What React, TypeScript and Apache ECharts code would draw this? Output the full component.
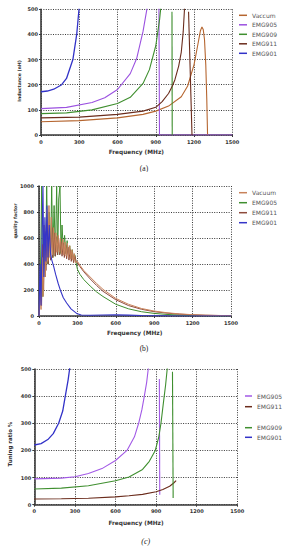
import React, { useEffect, useRef } from "react";
import * as echarts from "echarts";

// ---------------- (a) Inductance (nH) vs Frequency ----------------
const A_VAC_F = [0, 300, 600, 800, 900, 1000, 1100, 1150, 1200, 1230, 1250, 1262, 1272, 1282, 1292, 1300, 1306];
const A_VAC_L = [53, 57, 68, 82, 95, 115, 152, 195, 280, 360, 415, 430, 420, 380, 280, 140, 0];
const A_905_F = [0, 200, 400, 500, 600, 700, 750, 800, 830, 850];
const A_905_L = [105, 110, 129, 148, 181, 244, 304, 412, 500, 600];
const A_905_VF = [924, 929, 1500];
const A_905_VL = [600, 0, 0];
const A_909_F = [0, 200, 400, 600, 700, 800, 850, 900, 930, 950];
const A_909_L = [85, 88, 100, 125, 150, 205, 260, 355, 460, 560];
const A_909_VF = [1027, 1029];
const A_909_VL = [490, 0];
const A_911_F = [0, 300, 600, 800, 900, 950, 1000, 1030, 1050, 1080, 1100, 1115, 1125, 1135];
const A_911_L = [68, 71, 82, 95, 110, 133, 165, 195, 220, 275, 330, 410, 500, 600];
const A_911_VF = [1157, 1184];
const A_911_VL = [490, 0];
const A_901_F = [0, 50, 100, 162, 200, 250, 280, 298, 310];
const A_901_L = [172, 175, 182, 200, 225, 300, 400, 500, 600];

// ---------------- (b) quality factor vs Frequency ----------------
const B_VAC_F = [0, 8, 16, 24, 32, 42, 50, 60, 68, 78, 86, 96, 104, 114, 122, 132, 140, 150, 158, 168, 176, 186, 194, 204, 212, 222, 230, 240, 248, 258, 266, 276, 284, 300, 320, 350, 400, 450, 500, 600, 700, 800, 900, 1000, 1100, 1200, 1300, 1400, 1500];
const B_VAC_Q = [0, 200, 50, 450, 150, 700, 300, 820, 420, 850, 450, 760, 470, 680, 480, 640, 490, 620, 490, 600, 480, 590, 470, 570, 460, 560, 450, 540, 440, 510, 430, 480, 410, 420, 390, 350, 300, 250, 205, 135, 90, 58, 38, 25, 16, 10, 6, 4, 3];
const B_905_F = [0, 10, 21, 30, 40, 50, 60, 70, 80, 90, 99, 108, 118, 128, 138, 146, 154, 164, 172, 180, 190, 200, 210, 220, 230, 240, 250, 260, 270, 280, 290, 300, 320, 350, 400, 450, 500, 600, 700, 800, 900, 1000, 1100, 1200, 1300, 1400, 1500];
const B_905_Q = [0, 250, 1000, 150, 700, 300, 1000, 400, 800, 430, 1000, 450, 850, 460, 1000, 470, 900, 1000, 480, 700, 500, 620, 480, 580, 470, 540, 450, 510, 430, 470, 410, 360, 320, 280, 230, 185, 150, 90, 55, 33, 20, 12, 7, 4, 2, 1, 1];
const B_911_F = [0, 12, 20, 28, 36, 46, 54, 64, 72, 82, 90, 100, 108, 118, 126, 136, 144, 154, 162, 172, 180, 190, 198, 208, 216, 226, 234, 244, 252, 262, 270, 280, 290, 300, 320, 350, 400, 450, 500, 600, 700, 800, 900, 1000, 1100, 1200, 1300, 1400, 1500];
const B_911_Q = [0, 300, 80, 550, 200, 650, 350, 700, 400, 720, 430, 680, 450, 640, 460, 610, 470, 590, 470, 570, 460, 560, 450, 545, 440, 530, 430, 510, 420, 490, 410, 460, 420, 410, 380, 340, 285, 235, 190, 125, 80, 52, 33, 22, 14, 9, 6, 4, 3];
const B_901_F = [0, 8, 16, 24, 31, 38, 46, 54, 62, 70, 80, 90, 100, 115, 130, 150, 170, 190, 216, 250, 294, 330, 400, 500, 600, 700, 800, 900, 1000, 1200, 1500];
const B_901_Q = [0, 400, 80, 650, 1000, 300, 760, 420, 850, 450, 700, 480, 430, 380, 320, 250, 190, 140, 100, 55, 20, 8, 6, 8, 9, 7, 4, 2, 1, 0, 0];

// ---------------- (c) Tuning ratio % vs Frequency ----------------
const C_905_F = [0, 200, 300, 400, 500, 600, 685, 740, 771, 795, 813, 830, 842, 855];
const C_905_R = [95, 98, 103, 115, 133, 163, 200, 250, 300, 350, 400, 450, 500, 580];
const C_905_VF = [924, 927];
const C_905_VR = [463, 37];
const C_911_F = [0, 200, 400, 600, 700, 800, 900, 950, 1000, 1030, 1048];
const C_911_R = [21, 22, 24, 29, 33, 38, 48, 56, 68, 80, 89];
const C_909_F = [0, 200, 400, 600, 700, 800, 850, 894, 920, 936, 955, 970, 982, 995];
const C_909_R = [58, 61, 70, 88, 102, 130, 160, 200, 250, 300, 380, 440, 500, 580];
const C_909_VF = [1021, 1026];
const C_909_VR = [490, 25];
const C_901_F = [0, 50, 100, 140, 180, 210, 229, 250, 261, 270];
const C_901_R = [220, 225, 240, 262, 300, 345, 400, 460, 500, 560];

const FREQ_MAX = 1500;
const FREQ_STEP = 300;

const zip = (f: number[], v: number[]) => f.map((x, i) => [x, v[i]]);

const FONT = "DejaVu Sans";
const AX = "#3a3a3a";
const plain = (v: number) => String(v);

function xAxisCfg() {
  return {
    type: "value",
    min: 0,
    max: FREQ_MAX,
    interval: FREQ_STEP,
    axisLine: { show: true, lineStyle: { color: AX, width: 1.6 } },
    axisTick: { show: true, length: 2, lineStyle: { color: AX, width: 1 } },
    axisLabel: { fontSize: 5, fontWeight: "bold", color: "#333", margin: 4, fontFamily: FONT, formatter: plain },
    splitLine: { show: true, lineStyle: { type: [1, 1.4], color: "#222", width: 0.9 } },
  };
}
function yAxisCfg(max: number, interval: number, margin: number) {
  return {
    type: "value",
    min: 0,
    max,
    interval,
    axisLine: { show: true, lineStyle: { color: AX, width: 1.6 } },
    axisTick: { show: true, length: 2, lineStyle: { color: AX, width: 1 } },
    axisLabel: { fontSize: 5, fontWeight: "bold", color: "#333", margin, fontFamily: FONT, formatter: plain },
    splitLine: { show: true, lineStyle: { type: [1, 1.4], color: "#222", width: 0.9 } },
  };
}
function line(name: string, data: number[][], color: string, width = 1.1) {
  return {
    type: "line",
    name,
    data,
    showSymbol: false,
    symbol: "none",
    lineStyle: { color, width },
    itemStyle: { color },
    clip: true,
    z: 3,
  };
}
function legendCfg(names: string[], left: number, top: number, gap: number, itemWidth = 8) {
  return {
    orient: "vertical",
    left,
    top,
    data: names,
    icon: "rect",
    itemWidth,
    itemHeight: 1.5,
    itemGap: gap,
    selectedMode: false,
    padding: 0,
    textStyle: { fontSize: 6, color: "#555", fontFamily: FONT, lineHeight: 7 },
  };
}
function txt(text: string, x: number, y: number, size: number, opts: any = {}) {
  return {
    type: "text",
    x,
    y,
    rotation: opts.rotation || 0,
    style: {
      text,
      fontSize: size,
      fontWeight: opts.weight || "bold",
      fontStyle: opts.italic ? "italic" : "normal",
      fontFamily: opts.family || FONT,
      fill: opts.fill || "#333",
      textAlign: "center",
      textVerticalAlign: "middle",
    },
  };
}

// page offsets of the three panels
const OFF_A = 0;
const OFF_B = 172;
const OFF_C = 354;

const C_VAC = "#b5652f";
const C_905 = "#9b51e0";
const C_909 = "#3f8f2f";
const C_911 = "#6b2c1c";
const C_901 = "#3232c8";

const optA = {
  animation: false,
  grid: { left: 41, top: 9.3 - OFF_A, width: 191.3, height: 125.7 },
  xAxis: xAxisCfg(),
  yAxis: yAxisCfg(500, 100, 3),
  legend: legendCfg(["Vaccum", "EMG905", "EMG909", "EMG911", "EMG901"], 239, 11.8 - OFF_A, 2.5),
  graphic: [
    txt("Inductance (nH)", 19, 81 - OFF_A, 4.6, { rotation: Math.PI / 2 }),
    txt("Frequency (MHz)", 136.3, 151.7 - OFF_A, 5.8),
    txt("(a)", 144, 168 - OFF_A, 7.5, { weight: "normal", family: "Liberation Serif", fill: "#222" }),
  ],
  series: [
    line("Vaccum", zip(A_VAC_F, A_VAC_L), C_VAC),
    line("EMG905", zip(A_905_F, A_905_L), C_905),
    line("_905v", zip(A_905_VF, A_905_VL), C_905),
    line("EMG909", zip(A_909_F, A_909_L), C_909),
    line("_909v", zip(A_909_VF, A_909_VL), C_909),
    line("EMG911", zip(A_911_F, A_911_L), C_911),
    line("_911v", zip(A_911_VF, A_911_VL), C_911),
    line("EMG901", zip(A_901_F, A_901_L), C_901, 1.3),
  ],
};

const B_VAC = "#c8825a";
const B_905 = "#3f8f2f";
const B_911 = "#8e4b3c";
const B_901 = "#3535c8";

const optB = {
  animation: false,
  grid: { left: 39, top: 186 - OFF_B, width: 192, height: 130 },
  xAxis: xAxisCfg(),
  yAxis: yAxisCfg(1000, 200, 5),
  legend: legendCfg(["Vacuum", "EMG905", "EMG911", "EMG901"], 239, 189.2 - OFF_B, 3),
  graphic: [
    txt("quality factor", 15, 221 - OFF_B, 4.6, { rotation: Math.PI / 2 }),
    txt("Frequency (MHz)", 134.7, 333.3 - OFF_B, 5.8),
    txt("(b)", 144, 348 - OFF_B, 7.5, { weight: "normal", family: "Liberation Serif", fill: "#222" }),
  ],
  series: [
    line("EMG905", zip(B_905_F, B_905_Q), B_905, 1),
    line("EMG911", zip(B_911_F, B_911_Q), B_911, 1),
    line("Vacuum", zip(B_VAC_F, B_VAC_Q), B_VAC, 1),
    line("EMG901", zip(B_901_F, B_901_Q), B_901, 1.1),
  ],
};

const C_P905 = "#a259e6";
const optC = {
  animation: false,
  grid: { left: 34.3, top: 369 - OFF_C, width: 203, height: 135.7 },
  xAxis: xAxisCfg(),
  yAxis: yAxisCfg(500, 100, 3),
  legend: [
    legendCfg(["EMG905", "EMG911"], 245, 392.5 - OFF_C, 3.7, 7),
    legendCfg(["EMG909", "EMG901"], 245, 424.2 - OFF_C, 2.6, 7),
  ],
  graphic: [
    txt("Tuning ratio %", 10, 444 - OFF_C, 5.5, { rotation: Math.PI / 2 }),
    txt("Frequency (MHz)", 136, 522.7 - OFF_C, 5.8),
    txt("(c)", 145.7, 541 - OFF_C, 8, { weight: "normal", italic: true, family: "Liberation Serif", fill: "#222" }),
  ],
  series: [
    line("EMG905", zip(C_905_F, C_905_R), C_P905),
    line("_905v", zip(C_905_VF, C_905_VR), C_P905),
    line("EMG911", zip(C_911_F, C_911_R), C_911),
    line("EMG909", zip(C_909_F, C_909_R), C_909),
    line("_909v", zip(C_909_VF, C_909_VR), C_909),
    line("EMG901", zip(C_901_F, C_901_R), C_901, 1.3),
  ],
};

function Panel({ option, top, height }: { option: any; top: number; height: number }) {
  const ref = useRef<HTMLDivElement>(null);
  useEffect(() => {
    if (!ref.current) return;
    const chart = echarts.init(ref.current, undefined, { renderer: "svg" });
    chart.setOption(option);
    return () => chart.dispose();
  }, [option]);
  return <div ref={ref} style={{ position: "absolute", left: 0, top, width: 289, height }} />;
}

export default function App() {
  useEffect(() => {
    document.body.style.margin = "0";
    document.body.style.background = "#fff";
  }, []);
  return (
    <div style={{ position: "relative", width: 289, height: 550, background: "#fff" }}>
      <Panel option={optA} top={OFF_A} height={OFF_B - OFF_A} />
      <Panel option={optB} top={OFF_B} height={OFF_C - OFF_B} />
      <Panel option={optC} top={OFF_C} height={550 - OFF_C} />
    </div>
  );
}
